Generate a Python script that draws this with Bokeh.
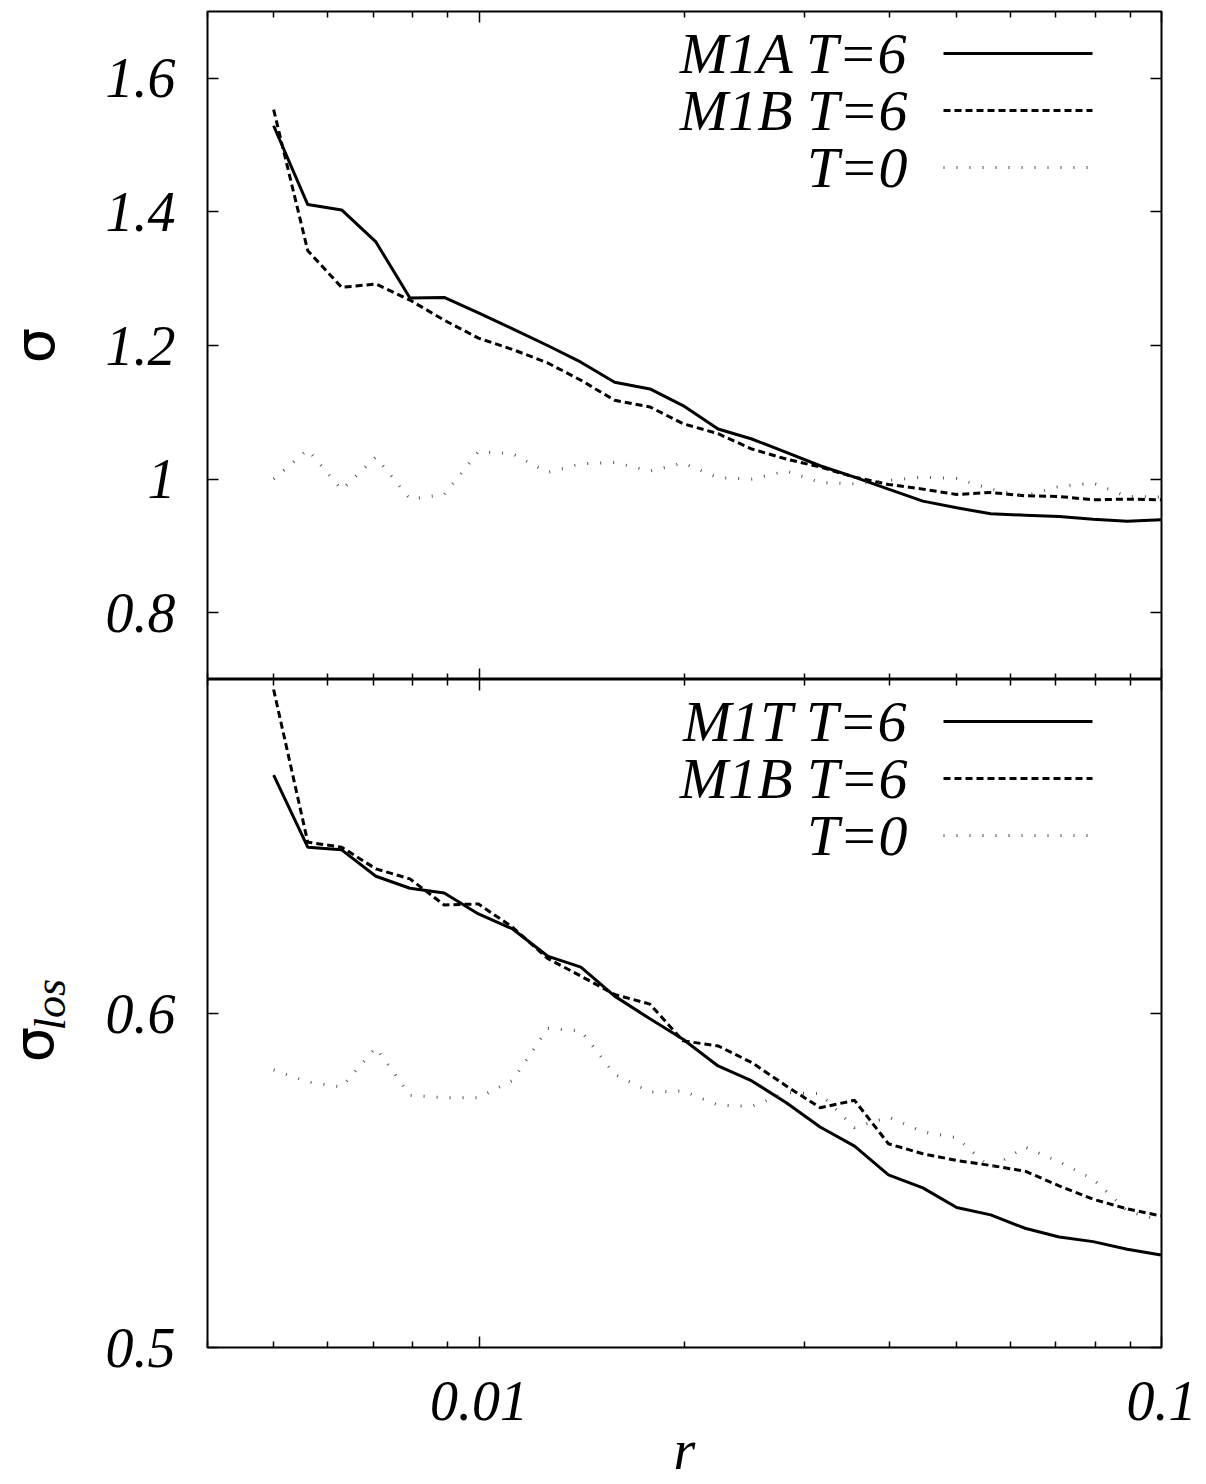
import math
from bokeh.plotting import figure
from bokeh.models import Range1d, FixedTicker, LinearAxis, LogAxis, Label, CustomJSTickFormatter
from bokeh.layouts import column, row
from bokeh.embed import file_html
from bokeh.resources import INLINE

# ---------------- data ----------------
r = [0.00500, 0.00561, 0.00629, 0.00706, 0.00792, 0.00889, 0.00998, 0.0112, 0.0126,
     0.0141, 0.0158, 0.0178, 0.0199, 0.0224, 0.0251, 0.0282, 0.0316, 0.0355,
     0.0398, 0.0447, 0.0501, 0.0562, 0.0631, 0.0708, 0.0794, 0.0891, 0.0998]

sigma_m1a_t6 = [1.529, 1.411, 1.403, 1.355, 1.271, 1.272, 1.249, 1.225, 1.200,
                1.175, 1.145, 1.135, 1.110, 1.075, 1.060, 1.040, 1.020, 1.003,
                0.985, 0.967, 0.957, 0.948, 0.946, 0.944, 0.940, 0.937, 0.939]
sigma_m1b_t6 = [1.553, 1.342, 1.287, 1.292, 1.268, 1.238, 1.211, 1.194, 1.174,
                1.148, 1.118, 1.108, 1.083, 1.068, 1.045, 1.030, 1.018, 1.003,
                0.992, 0.985, 0.977, 0.980, 0.975, 0.974, 0.969, 0.970, 0.969]
sigma_t0 = [1.000, 1.044, 0.984, 1.033, 0.970, 0.977, 1.041, 1.038, 1.010,
            1.023, 1.025, 1.012, 1.024, 1.002, 1.000, 1.012, 0.995, 0.993,
            0.998, 1.003, 1.001, 0.985, 0.975, 0.989, 0.994, 0.974, 0.973]

los_m1t_t6 = [0.6714, 0.6498, 0.6490, 0.6411, 0.6375, 0.6361, 0.6298, 0.6253, 0.6172,
              0.6139, 0.6052, 0.5984, 0.5923, 0.5843, 0.5798, 0.5733, 0.5660, 0.5603,
              0.5517, 0.5478, 0.5419, 0.5397, 0.5357, 0.5331, 0.5317, 0.5294, 0.5277]
los_m1b_t6 = [0.6970, 0.6513, 0.6498, 0.6433, 0.6403, 0.6325, 0.6328, 0.6258, 0.6165,
              0.6112, 0.6057, 0.6028, 0.5918, 0.5903, 0.5853, 0.5783, 0.5718, 0.5740,
              0.5610, 0.5580, 0.5560, 0.5545, 0.5528, 0.5484, 0.5444, 0.5415, 0.5394]
los_t0 = [0.5831, 0.5795, 0.5780, 0.5898, 0.5755, 0.5748, 0.5748, 0.5800, 0.5955,
          0.5948, 0.5818, 0.5765, 0.5768, 0.5726, 0.5722, 0.5763, 0.5760, 0.5658,
          0.5690, 0.5646, 0.5628, 0.5538, 0.5600, 0.5556, 0.5504, 0.5409, 0.5379]

x_major_ticks = [0.01, 0.1]
x_minor_ticks = [0.004, 0.005, 0.006, 0.007, 0.008, 0.009,
                 0.02, 0.03, 0.04, 0.05, 0.06, 0.07, 0.08, 0.09]
top_y_ticks = [0.8, 1.0, 1.2, 1.4, 1.6]
bot_y_ticks = [0.5, 0.6]

top_legend = ["M1A T=6", "M1B T=6", "T=0"]
bot_legend = ["M1T T=6", "M1B T=6", "T=0"]

# ---------------- layout ----------------
W, H = 1206, 1484
TITLE_W = 96                      # strip holding the rotated y titles
LEFT, RIGHT = 207, 45             # frame edges in page pixels
TOP = 11
PANEL_H = 668
BOTTOM = H - TOP - 2 * PANEL_H    # border under the lower frame
FRAME_W = W - LEFT - RIGHT
X_RANGE = (0.004, 0.1)
TOP_Y = (0.7, 1.7)
BOT_Y = (0.5, 0.7)

SERIF = "Liberation Serif"
FS = "56px"
LEG_FS = "58px"

STYLES = [
    dict(line_color="black", line_width=3),
    dict(line_color="black", line_width=3, line_dash="7 4"),
    dict(line_color="#555555", line_width=3, line_dash="1 12", line_cap="butt"),
]


def x_at(px):
    lo, hi = math.log10(X_RANGE[0]), math.log10(X_RANGE[1])
    return 10 ** (lo + (px - LEFT) / FRAME_W * (hi - lo))


def y_at(rel_py, rng):
    return rng[1] - rel_py / PANEL_H * (rng[1] - rng[0])


def style_axis(ax, show_labels):
    ax.axis_line_color = None
    ax.major_tick_in = 11
    ax.major_tick_out = 0
    ax.minor_tick_in = 6
    ax.minor_tick_out = 0
    ax.major_tick_line_color = "black"
    ax.major_tick_line_width = 1.5
    ax.minor_tick_line_color = "black"
    ax.minor_tick_line_width = 1.5
    ax.axis_label = None
    if show_labels:
        ax.formatter = CustomJSTickFormatter(code="return tick.toString();")
        ax.major_label_text_font = SERIF
        ax.major_label_text_font_style = "italic"
        ax.major_label_text_font_size = FS
        ax.major_label_text_color = "black"
    else:
        ax.formatter = CustomJSTickFormatter(code="return '';")
        ax.major_label_text_font_size = "0px"
        ax.major_label_standoff = 0


def make_panel(y_rng, y_ticks, height, b_top, b_bottom, x_labels):
    p = figure(width=W - TITLE_W, height=height, x_axis_type="log",
               x_range=Range1d(*X_RANGE), y_range=Range1d(*y_rng),
               output_backend="svg", toolbar_location=None,
               min_border_left=LEFT - TITLE_W, min_border_right=RIGHT,
               min_border_top=b_top, min_border_bottom=b_bottom)
    p.xgrid.visible = False
    p.ygrid.visible = False
    p.outline_line_color = "black"
    p.outline_line_width = 2
    p.background_fill_color = "white"
    p.border_fill_color = "white"

    xt = FixedTicker(ticks=x_major_ticks, minor_ticks=x_minor_ticks)
    yt = FixedTicker(ticks=y_ticks)

    bx = p.xaxis[0]
    bx.ticker = xt
    style_axis(bx, x_labels)
    if x_labels:
        bx.major_label_standoff = 34
        bx.axis_label = "r"
        bx.axis_label_text_font = SERIF
        bx.axis_label_text_font_style = "italic"
        bx.axis_label_text_font_size = FS
        bx.axis_label_text_color = "black"
        bx.axis_label_standoff = -4

    ly = p.yaxis[0]
    ly.ticker = yt
    style_axis(ly, True)
    ly.major_label_standoff = 32

    ax_top = LogAxis(ticker=xt)
    style_axis(ax_top, False)
    p.add_layout(ax_top, "above")

    ax_right = LinearAxis(ticker=yt)
    style_axis(ax_right, False)
    p.add_layout(ax_right, "right")
    return p


p1 = make_panel(TOP_Y, top_y_ticks, TOP + PANEL_H, TOP, 0, False)
p2 = make_panel(BOT_Y, bot_y_ticks, PANEL_H + BOTTOM, 0, BOTTOM, True)

p1.line(r, sigma_m1a_t6, **STYLES[0])
p1.line(r, sigma_m1b_t6, **STYLES[1])
p1.line(r, sigma_t0, **STYLES[2])

p2.line(r, los_m1t_t6, **STYLES[0])
p2.line(r, los_m1b_t6, **STYLES[1])
p2.line(r, los_t0, **STYLES[2])

# ---------------- legends (text left of sample, gnuplot style) ----------------
ROW_PX = [42, 99, 156]            # row centres, measured from the frame top
TEXT_RIGHT_PX = 907
SAMPLE_PX = (943, 1092)


def add_legend(p, names, y_rng):
    for i, name in enumerate(names):
        yv = y_at(ROW_PX[i], y_rng)
        p.add_layout(Label(x=x_at(TEXT_RIGHT_PX), y=yv, text=name,
                           text_align="right", text_baseline="middle",
                           text_font=SERIF, text_font_style="italic",
                           text_font_size=LEG_FS, text_color="black"))
        p.line([x_at(SAMPLE_PX[0]), x_at(SAMPLE_PX[1])], [yv, yv], **STYLES[i])


add_legend(p1, top_legend, TOP_Y)
add_legend(p2, bot_legend, BOT_Y)

# ---------------- y titles in one full-height strip (page pixel coords) ----------------
s = figure(width=TITLE_W, height=H, x_range=Range1d(0, TITLE_W), y_range=Range1d(H, 0),
           output_backend="svg", toolbar_location=None,
           x_axis_location=None, y_axis_location=None,
           min_border_left=0, min_border_right=0, min_border_top=0, min_border_bottom=0)
s.outline_line_color = None
s.background_fill_color = "white"
s.border_fill_color = "white"
s.grid.visible = False

s.add_layout(Label(x=34, y=345, text="σ", angle=math.pi / 2,
                   text_align="center", text_baseline="middle",
                   text_font="DejaVu Sans", text_font_size=FS, text_color="black"))
s.add_layout(Label(x=33, y=1044, text="σ", angle=math.pi / 2,
                   text_align="center", text_baseline="middle",
                   text_font="DejaVu Sans", text_font_size=FS, text_color="black"))
s.add_layout(Label(x=50, y=1004, text="los", angle=math.pi / 2,
                   text_align="center", text_baseline="middle",
                   text_font=SERIF, text_font_style="italic",
                   text_font_size="44px", text_color="black"))

layout = row(s, column(p1, p2, spacing=0), spacing=0)
open("out.html", "w").write(file_html(layout, INLINE))
